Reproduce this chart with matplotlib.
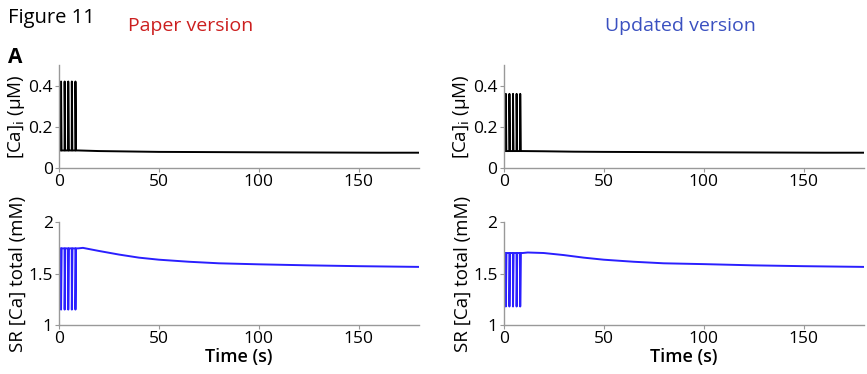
import numpy as np
import matplotlib.pyplot as plt

plt.rcParams['font.family'] = ['Open Sans', 'DejaVu Sans']

# stimulus times (s)
spike_t = [1.0, 2.8, 4.6, 6.4, 8.2]

# [Ca]i traces: spike peak, baseline during pacing, then the slow tail
ca_peak = {'paper': 0.42, 'updated': 0.36}
ca_base = {'paper': 0.085, 'updated': 0.082}
tail_t = [9.5, 20, 35, 50, 75, 100, 130, 160, 180]
ca_tail = {'paper': [0.085, 0.082, 0.080, 0.078, 0.077, 0.076, 0.075, 0.074, 0.074],
           'updated': [0.082, 0.081, 0.079, 0.078, 0.077, 0.076, 0.075, 0.074, 0.074]}

# SR total Ca: level between beats, trough of each release, then the tail
sr_top = {'paper': 1.745, 'updated': 1.70}
sr_low = {'paper': 1.15, 'updated': 1.18}
sr_tail_t = [9.5, 12, 20, 30, 40, 50, 65, 80, 100, 125, 150, 180]
sr_tail = {'paper': [1.745, 1.75, 1.72, 1.685, 1.655, 1.635, 1.615, 1.60, 1.59, 1.58, 1.572, 1.565],
           'updated': [1.70, 1.705, 1.70, 1.68, 1.655, 1.635, 1.615, 1.60, 1.592, 1.58, 1.572, 1.565]}


def trace(base, peak, tt, tail, up=0.05, down=0.3):
    t = [0.0]
    y = [base]
    for s in spike_t:
        t += [s, s + up, s + down]
        y += [base, peak, base]
    return t + tt, y + tail


fig = plt.figure(figsize=(8.67, 3.74), dpi=100)

fig.text(0.009, 0.952, 'Figure 11', fontsize=14.5, va='center')
fig.text(0.009, 0.845, 'A', fontsize=15, fontweight='bold', va='center')
fig.text(0.22, 0.93, 'Paper version', fontsize=14, color='#cc1f1f', ha='center', va='center')
fig.text(0.785, 0.93, 'Updated version', fontsize=14, color='#3a50c0', ha='center', va='center')

lefts = {'paper': 0.068, 'updated': 0.581}
for key in ['paper', 'updated']:
    ax1 = fig.add_axes([lefts[key], 0.551, 0.415, 0.275])
    t, y = trace(ca_base[key], ca_peak[key], tail_t, ca_tail[key])
    ax1.plot(t, y, color='black', lw=1.4)
    ax1.set_xlim(0, 180)
    ax1.set_ylim(0, 0.5)
    ax1.set_yticks([0, 0.2, 0.4])
    ax1.set_yticklabels(['0', '0.2', '0.4'])
    ax1.set_xticks([0, 50, 100, 150])
    ax1.set_ylabel('[Ca]$_\\mathrm{i}$ (μM)', fontsize=13.5, labelpad=1)

    ax2 = fig.add_axes([lefts[key], 0.131, 0.415, 0.275])
    t, y = trace(sr_top[key], sr_low[key], sr_tail_t, sr_tail[key], up=0.05, down=0.35)
    ax2.plot(t, y, color='#2a1fff', lw=1.4)
    ax2.set_xlim(0, 180)
    ax2.set_ylim(1, 2)
    ax2.set_yticks([1, 1.5, 2])
    ax2.set_yticklabels(['1', '1.5', '2'])
    ax2.set_xticks([0, 50, 100, 150])
    ax2.set_ylabel('SR [Ca] total (mM)', fontsize=13.5, labelpad=1)
    ax2.set_xlabel('Time (s)', fontsize=13, fontweight='semibold', labelpad=0.5)

    for ax in (ax1, ax2):
        for side in ['top', 'right']:
            ax.spines[side].set_visible(False)
        for side in ['left', 'bottom']:
            ax.spines[side].set_color('#999999')
            ax.spines[side].set_linewidth(1.0)
        ax.tick_params(axis='both', labelsize=12.5, length=3, width=0.8,
                       color='#999999', pad=1.5)

plt.savefig('out.png', dpi=100)
